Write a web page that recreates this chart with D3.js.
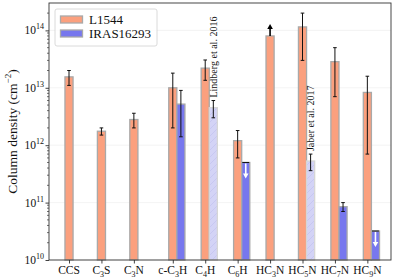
<!DOCTYPE html>
<html>
<head>
<meta charset="utf-8">
<script src="https://cdn.jsdelivr.net/npm/d3@7"></script>
<style>
  body { margin: 0; background: #fff; }
  text { font-family: "Liberation Serif", "DejaVu Serif", serif; fill: #111; }
</style>
</head>
<body>
<div class="chart"></div>
<script>
// data
var species = ["CCS", "C_3S", "C_3N", "c-C_3H", "C_4H", "C_6H", "HC_3N", "HC_5N", "HC_7N", "HC_9N"];
var xPos = [0, 1, 2, 3.2, 4.2, 5.2, 6.2, 7.2, 8.2, 9.2];

var l1544 = [1.55e13, 1.75e12, 2.8e12, 1.0e13, 2.2e13, 1.2e12, 8.0e13, 1.15e14, 2.85e13, 8.3e12];
var l1544Err = [0.45e13, 0.25e12, 0.8e12, 0.8e13, 0.85e13, 0.6e12, null, 0.85e14, 2.15e13, 7.6e12];
var l1544Kind = ["det", "det", "det", "det", "det", "det", "lowlim", "det", "det", "det"];

var iras = [null, null, null, 5.2e12, 4.5e12, 5.0e11, null, 5.3e11, 8.5e10, 3.2e10];
var irasErr = [null, null, null, 3.8e12, 1.5e12, null, null, 1.7e11, 1.5e10, null];
var irasKind = ["", "", "", "det", "lit", "uplim", "", "lit", "det", "uplim"];

var notes = [
  { idx: 4, text: "Lindberg et al. 2016" },
  { idx: 7, text: "Jaber et al. 2017" }
];
var yTicks = [1e10, 1e11, 1e12, 1e13, 1e14];

var svgWidth = 397, svgHeight = 279;
var margin = { top: 3, right: 6, bottom: 19, left: 49 };
var width = svgWidth - margin.left - margin.right;
var height = svgHeight - margin.top - margin.bottom;

var orange = "#fba07e", blue = "#7777ee", edge = "#a9a9a9";

var svg = d3.select(".chart").append("svg")
  .attr("width", svgWidth)
  .attr("height", svgHeight);

// light hatch for the literature values
var defs = svg.append("defs");
var hatch = defs.append("pattern")
  .attr("id", "hatch")
  .attr("patternUnits", "userSpaceOnUse")
  .attr("width", 7).attr("height", 7);
hatch.append("rect").attr("width", 7).attr("height", 7).attr("fill", "#d3d3f6");
hatch.append("path").attr("d", "M-1,8 L8,-1 M-1,1 L1,-1 M6,8 L8,6")
  .attr("stroke", "#bfbfee").attr("stroke-width", 0.6);

var chart = svg.append("g")
  .attr("transform", "translate(" + margin.left + "," + margin.top + ")");

var xScale = d3.scaleLinear().domain([-0.617, 9.929]).range([0, width]);
var yScale = d3.scaleLog().domain([1e10, 3.0e14]).range([height, 0]);
var barW = xScale(0.25) - xScale(0);

// faint grid at decades
chart.append("g").selectAll("line")
  .data(yTicks)
  .enter().append("line")
  .attr("x1", 0).attr("x2", width)
  .attr("y1", function (d) { return yScale(d); })
  .attr("y2", function (d) { return yScale(d); })
  .attr("stroke", "#f0f0f0").attr("stroke-width", 0.8);

var rows = species.map(function (s, i) {
  return { i: i, x: xPos[i], l: l1544[i], le: l1544Err[i], lk: l1544Kind[i],
           r: iras[i], re: irasErr[i], rk: irasKind[i] };
});

// L1544 bars
chart.selectAll(".bar-l")
  .data(rows)
  .enter().append("rect")
  .attr("class", "bar-l")
  .attr("x", function (d) { return xScale(d.x) - barW / 2; })
  .attr("y", function (d) { return yScale(d.l); })
  .attr("width", barW)
  .attr("height", function (d) { return height - yScale(d.l); })
  .attr("fill", orange)
  .attr("stroke", edge).attr("stroke-width", 1.3);

var irasRows = rows.filter(function (d) { return d.r != null; });

// IRAS16293 bars
chart.selectAll(".bar-r")
  .data(irasRows)
  .enter().append("rect")
  .attr("class", "bar-r")
  .attr("x", function (d) { return xScale(d.x + 0.25) - barW / 2; })
  .attr("y", function (d) { return yScale(d.r); })
  .attr("width", barW)
  .attr("height", function (d) { return height - yScale(d.r); })
  .attr("fill", function (d) { return d.rk === "lit" ? "url(#hatch)" : blue; })
  .attr("stroke", function (d) { return d.rk === "lit" ? "#d6d6d6" : edge; })
  .attr("stroke-width", 1.3);

// error bars
function errBar(cx, v, e) {
  var y1 = yScale(v + e), y2 = yScale(v - e);
  var g = chart.append("g").attr("stroke", "#111").attr("stroke-width", 1);
  g.append("line").attr("x1", cx).attr("x2", cx).attr("y1", y1).attr("y2", y2);
  g.append("line").attr("x1", cx - 1.8).attr("x2", cx + 1.8).attr("y1", y1).attr("y2", y1);
  g.append("line").attr("x1", cx - 1.8).attr("x2", cx + 1.8).attr("y1", y2).attr("y2", y2);
}

rows.forEach(function (d) {
  if (d.le != null) errBar(xScale(d.x), d.l, d.le);
  if (d.re != null) errBar(xScale(d.x + 0.25), d.r, d.re);
});

// lower limit arrow (black, up)
rows.filter(function (d) { return d.lk === "lowlim"; }).forEach(function (d) {
  var cx = xScale(d.x), y0 = yScale(d.l);
  chart.append("line").attr("x1", cx).attr("x2", cx).attr("y1", y0).attr("y2", y0 - 8)
    .attr("stroke", "#000").attr("stroke-width", 1.6);
  chart.append("path")
    .attr("d", "M" + (cx - 2.8) + "," + (y0 - 7) + " L" + cx + "," + (y0 - 12) + " L" + (cx + 2.8) + "," + (y0 - 7) + "Z")
    .attr("fill", "#000");
});

// upper limit arrows (white, down)
irasRows.filter(function (d) { return d.rk === "uplim"; }).forEach(function (d) {
  var cx = xScale(d.x + 0.25), y0 = yScale(d.r);
  chart.append("line").attr("x1", cx - barW / 2 + 0.6).attr("x2", cx + barW / 2 - 0.6)
    .attr("y1", y0).attr("y2", y0).attr("stroke", "#111").attr("stroke-width", 1);
  chart.append("line").attr("x1", cx).attr("x2", cx).attr("y1", y0 + 1).attr("y2", y0 + 12)
    .attr("stroke", "#fff").attr("stroke-width", 1.6);
  chart.append("path")
    .attr("d", "M" + (cx - 2.8) + "," + (y0 + 11) + " L" + cx + "," + (y0 + 16) + " L" + (cx + 2.8) + "," + (y0 + 11) + "Z")
    .attr("fill", "#fff");
});

// literature notes
notes.forEach(function (n) {
  var d = rows[n.idx];
  var cx = xScale(d.x + 0.25) + 3.5;
  var yb = yScale(d.r + d.re) - 3;
  chart.append("text")
    .attr("transform", "translate(" + cx + "," + yb + ")rotate(-90)")
    .attr("font-size", "10px")
    .text(n.text);
});

// axes
var xAxis = d3.axisBottom(xScale).tickValues(xPos).tickSize(3.5).tickFormat("");
var gx = chart.append("g")
  .attr("class", "x-axis")
  .attr("transform", "translate(0," + height + ")")
  .call(xAxis);
gx.select(".domain").remove();
gx.selectAll("line").attr("stroke", "#111").attr("stroke-width", 0.8);

function subLabel(sel, str) {
  var parts = str.split(/_(\d)/);
  parts.forEach(function (p, k) {
    if (p === "") return;
    var t = sel.append("tspan").text(p);
    if (k % 2 === 1) t.attr("font-size", "8px").attr("dy", "3");
    else if (k > 0) t.attr("dy", "-3");
  });
}

species.forEach(function (s, i) {
  var t = chart.append("text")
    .attr("x", xScale(xPos[i]))
    .attr("y", height + 14)
    .attr("text-anchor", "middle")
    .attr("font-size", "11.5px");
  subLabel(t, s);
});

var yAxis = d3.axisLeft(yScale).tickValues(yTicks).tickSize(3.5).tickFormat("");
var gy = chart.append("g").attr("class", "y-axis").call(yAxis);
gy.select(".domain").remove();
gy.selectAll("line").attr("stroke", "#111").attr("stroke-width", 0.8);

var minor = [];
for (var e = 10; e < 15; e++) {
  for (var m = 2; m < 10; m++) {
    if (m * Math.pow(10, e) < 3.0e14) minor.push(m * Math.pow(10, e));
  }
}
chart.append("g").selectAll("line")
  .data(minor)
  .enter().append("line")
  .attr("x1", -2).attr("x2", 0)
  .attr("y1", function (d) { return yScale(d); })
  .attr("y2", function (d) { return yScale(d); })
  .attr("stroke", "#111").attr("stroke-width", 0.6);

yTicks.forEach(function (v) {
  var t = chart.append("text")
    .attr("x", -5)
    .attr("y", yScale(v) + 4)
    .attr("text-anchor", "end")
    .attr("font-size", "11.5px");
  t.append("tspan").text("10");
  t.append("tspan").attr("font-size", "8px").attr("dy", "-5").text(Math.round(Math.log10(v)));
});

// frame
chart.append("rect")
  .attr("width", width).attr("height", height)
  .attr("fill", "none").attr("stroke", "#333").attr("stroke-width", 0.9);

// y label
var yl = chart.append("text")
  .attr("transform", "translate(-32," + (height / 2) + ")rotate(-90)")
  .attr("text-anchor", "middle")
  .attr("font-size", "13.5px");
yl.append("tspan").text("Column density (cm");
yl.append("tspan").attr("font-size", "9px").attr("dy", "-6").text("\u22122");
yl.append("tspan").attr("dy", "6").text(")");

// legend
var leg = chart.append("g").attr("transform", "translate(6,6)");
leg.append("rect")
  .attr("width", 102).attr("height", 37).attr("rx", 2)
  .attr("fill", "#fff").attr("fill-opacity", 0.8)
  .attr("stroke", "#d0d0d0").attr("stroke-width", 0.8);
var legItems = [{ name: "L1544", color: orange }, { name: "IRAS16293", color: blue }];
legItems.forEach(function (it, k) {
  leg.append("rect")
    .attr("x", 5.5).attr("y", 7 + k * 14)
    .attr("width", 22).attr("height", 7)
    .attr("fill", it.color).attr("stroke", edge).attr("stroke-width", 1.3);
  leg.append("text")
    .attr("x", 34).attr("y", 15 + k * 14)
    .attr("font-size", "13px")
    .text(it.name);
});
</script>
</body>
</html>
